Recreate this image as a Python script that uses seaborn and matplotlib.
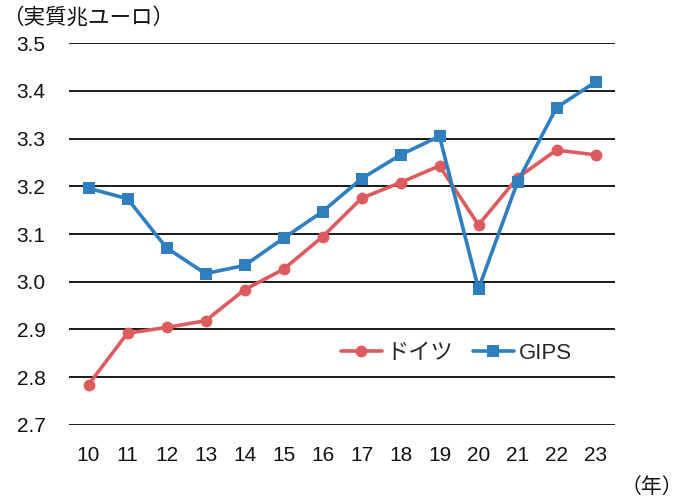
import numpy as np
import pandas as pd
import matplotlib
matplotlib.use("Agg")
import matplotlib.pyplot as plt
from matplotlib.lines import Line2D
import seaborn as sns

years = [10, 11, 12, 13, 14, 15, 16, 17, 18, 19, 20, 21, 22, 23]
germany = [2.784, 2.892, 2.904, 2.918, 2.983, 3.026, 3.094, 3.175, 3.208, 3.243, 3.119, 3.218, 3.276, 3.266]
gips = [3.196, 3.174, 3.071, 3.017, 3.034, 3.091, 3.147, 3.216, 3.266, 3.305, 2.985, 3.209, 3.365, 3.419]
series_names = ["ドイツ", "GIPS"]
y_ticks = [2.7, 2.8, 2.9, 3.0, 3.1, 3.2, 3.3, 3.4, 3.5]

df = pd.DataFrame({
    "year": years * 2,
    "value": germany + gips,
    "series": [series_names[0]] * len(years) + [series_names[1]] * len(years),
})

sns.set_theme(style="white")
plt.rcParams["font.family"] = ["Liberation Sans", "Noto Sans CJK JP", "DejaVu Sans"]

fig = plt.figure(figsize=(6.83, 4.99), dpi=100)
ax = fig.add_axes([69 / 683, 1 - 424.7 / 499, 546 / 683, 381.4 / 499])

palette = {series_names[0]: "#DD5A5F", series_names[1]: "#2E7EC0"}
markers = {series_names[0]: "o", series_names[1]: "s"}
sns.lineplot(data=df, x="year", y="value", hue="series", style="series",
             palette=palette, markers=markers, dashes=False, linewidth=2.6,
             markersize=8.5, markeredgewidth=0, ax=ax, legend=False)

ax.set_xlim(9.5, 23.5)
ax.set_ylim(2.7, 3.5)
ax.set_xticks(years)
ax.set_xticklabels([str(y) for y in years])
ax.set_yticks(y_ticks)
ax.set_yticklabels([f"{v:.1f}" for v in y_ticks])
ax.tick_params(axis="both", length=0, labelsize=15, colors="#111111")
ax.tick_params(axis="x", pad=15)
ax.tick_params(axis="y", pad=17)
ax.set_xlabel("")
ax.set_ylabel("")
ax.grid(axis="y", color="#1a1a1a", linewidth=1.4)
ax.set_axisbelow(True)
for sp in ax.spines.values():
    sp.set_visible(False)

handles = [Line2D([], [], color=palette[n], marker=markers[n], linewidth=2.6,
                  markersize=8.5, markeredgewidth=0) for n in series_names]
ax.legend(handles, series_names, loc="center", bbox_to_anchor=(0.709, 0.187),
          ncol=2, frameon=False, fontsize=16, handlelength=1.85,
          handletextpad=0.2, columnspacing=0.9)

fig.text(2 / 683, 1 - 18 / 499, "（実質兆ユーロ）", fontsize=15.5, va="center", ha="left",
         color="#111111")
fig.text(683 / 683, 1 - 487 / 499, "（年）", fontsize=15, va="center", ha="right",
         color="#111111")

fig.savefig("out.png", dpi=100)
